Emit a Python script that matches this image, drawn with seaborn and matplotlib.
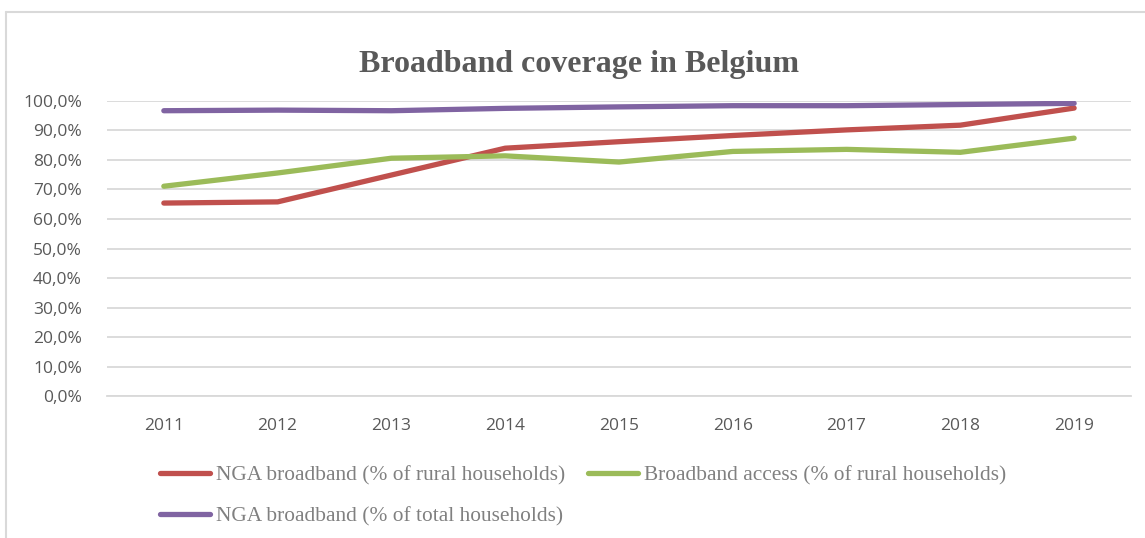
import numpy as np
import pandas as pd
import matplotlib
matplotlib.use('Agg')
import matplotlib.pyplot as plt
from matplotlib.lines import Line2D
import seaborn as sns

years = [2011, 2012, 2013, 2014, 2015, 2016, 2017, 2018, 2019]
nga_rural = [65.4, 65.8, 74.9, 84.0, 86.2, 88.3, 90.2, 91.8, 97.6]
access_rural = [71.1, 75.6, 80.6, 81.4, 79.3, 82.9, 83.6, 82.6, 87.4]
nga_total = [96.7, 96.9, 96.7, 97.5, 98.0, 98.4, 98.4, 98.8, 99.2]

labels = ['NGA broadband (% of rural households)',
          'Broadband access (% of rural households)',
          'NGA broadband (% of total households)']
colors = ['#C0504D', '#9BBB59', '#8064A2']

df = pd.DataFrame({
    'year': years * 3,
    'value': nga_rural + access_rural + nga_total,
    'series': [labels[0]] * 9 + [labels[1]] * 9 + [labels[2]] * 9,
})

sns.set_style('white')
serif = ['Liberation Serif', 'DejaVu Serif']
sans = ['Open Sans', 'DejaVu Sans']

fig = plt.figure(figsize=(11.45, 5.38), dpi=100)
ax = fig.add_axes([0.0934, 0.2639, 0.8944, 0.5484])

sns.lineplot(data=df, x='year', y='value', hue='series',
             palette=dict(zip(labels, colors)), linewidth=3.8,
             solid_capstyle='round', legend=False, ax=ax)

ax.set_xlim(2010.5, 2019.5)
ax.set_ylim(0, 100)
ax.set_yticks(np.arange(0, 101, 10))
ax.set_yticklabels([f'{v},0%' for v in range(0, 101, 10)])
ax.set_xticks(years)
ax.set_xticklabels([str(y) for y in years])
ax.yaxis.grid(True, color='#D9D9D9', linewidth=1.3)
ax.set_axisbelow(True)
for s in ['top', 'right', 'left']:
    ax.spines[s].set_visible(False)
ax.spines['bottom'].set_color('#D9D9D9')
ax.spines['bottom'].set_linewidth(1.3)
ax.tick_params(axis='both', length=0, labelsize=12.5, colors='#595959')
ax.tick_params(axis='x', pad=16)
ax.tick_params(axis='y', pad=18)
for t in ax.get_xticklabels() + ax.get_yticklabels():
    t.set_family(sans)
ax.set_xlabel('')
ax.set_ylabel('')

fig.text(0.506, 0.881, 'Broadband coverage in Belgium', ha='center', va='center',
         fontsize=23, fontweight='bold', color='#595959', family=serif)

# chart frame (top and left edges visible)
fig.add_artist(Line2D([0.005, 1.0], [1 - 12 / 538, 1 - 12 / 538],
                      transform=fig.transFigure, color='#D9D9D9', linewidth=1.5))
fig.add_artist(Line2D([0.005, 0.005], [0.0, 1 - 12 / 538],
                      transform=fig.transFigure, color='#D9D9D9', linewidth=1.5))

handles = [Line2D([], [], color=c, linewidth=3.8, solid_capstyle='round') for c in colors]
order = [0, 2, 1]
leg = fig.legend([handles[i] for i in order], [labels[i] for i in order],
                 ncol=2, loc='upper left', bbox_to_anchor=(0.1397, 0.1356),
                 frameon=False, prop={'family': serif, 'size': 15.4},
                 handlelength=2.34, handletextpad=0.28, columnspacing=1.07,
                 labelspacing=1.0, borderaxespad=0, borderpad=0)
for t in leg.get_texts():
    t.set_color('#808080')

fig.savefig('out.png', dpi=100)
